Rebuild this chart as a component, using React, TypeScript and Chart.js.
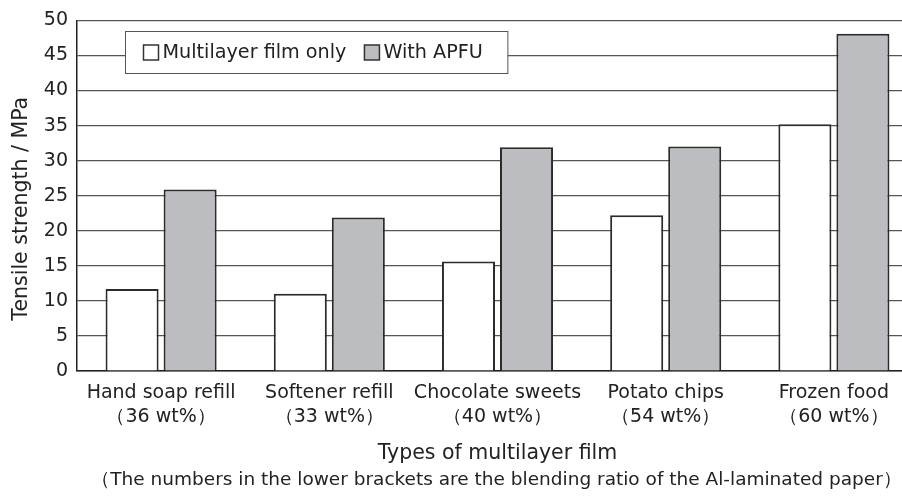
import React, { useEffect, useRef } from "react";
import { Chart, registerables } from "chart.js";

Chart.register(...registerables);

// ---- data ----
const categories = ["Hand soap refill", "Softener refill", "Chocolate sweets", "Potato chips", "Frozen food"];
const ratios = ["（36 wt%）", "（33 wt%）", "（40 wt%）", "（54 wt%）", "（60 wt%）"];
const seriesNames = ["Multilayer film only", "With APFU"];
const multilayerOnly = [11.7, 11.0, 15.6, 22.2, 35.2];
const withAPFU = [25.9, 21.9, 31.9, 32.0, 48.1];
const yMin = 0;
const yMax = 50;
const yStep = 5;
const yTitle = "Tensile strength / MPa";
const xTitle = "Types of multilayer film";
const xNote = "（The numbers in the lower brackets are the blending ratio of the Al-laminated paper）";

const FONT = '"DejaVu Sans", sans-serif';
const TEXT = "#222";

const legendBox = {
  id: "legendBox",
  afterDraw(chart: any) {
    const { ctx, chartArea } = chart;
    ctx.save();
    ctx.font = `19.2px ${FONT}`;
    const pad = 18, padR = 25, sq = 15, gapText = 4, gapItem = 18, h = 42;
    const items = chart.data.datasets.map((ds: any) => ({
      label: ds.label,
      fill: ds.backgroundColor,
      stroke: ds.borderColor,
    }));
    let w = pad + padR;
    items.forEach((it: any, i: number) => {
      w += sq + gapText + ctx.measureText(it.label).width + (i < items.length - 1 ? gapItem : 0);
    });
    const x0 = Math.round(chartArea.left + 48) + 0.5;
    const y0 = Math.round(chartArea.top + 11) + 0.5;
    ctx.fillStyle = "#fff";
    ctx.fillRect(x0, y0, w, h);
    ctx.strokeStyle = "#555";
    ctx.lineWidth = 1;
    ctx.strokeRect(x0, y0, w, h);
    let x = x0 + pad;
    const cy = y0 + h / 2;
    items.forEach((it: any) => {
      ctx.fillStyle = it.fill;
      ctx.fillRect(x, cy - sq / 2, sq, sq);
      ctx.lineWidth = 1.5;
      ctx.strokeStyle = "#333";
      ctx.strokeRect(x, cy - sq / 2, sq, sq);
      x += sq + gapText;
      ctx.fillStyle = TEXT;
      ctx.textBaseline = "middle";
      ctx.textAlign = "left";
      ctx.fillText(it.label, x, cy + 1);
      x += ctx.measureText(it.label).width + gapItem;
    });
    ctx.restore();
  },
};

const noteText = {
  id: "noteText",
  afterDraw(chart: any) {
    const { ctx, chartArea } = chart;
    ctx.save();
    ctx.font = `18.5px ${FONT}`;
    ctx.fillStyle = TEXT;
    ctx.textAlign = "center";
    ctx.textBaseline = "middle";
    ctx.fillText(xNote, (chartArea.left + chartArea.right) / 2 - 1, chart.height - 17);
    ctx.restore();
  },
};

export default function App() {
  const ref = useRef<HTMLCanvasElement | null>(null);

  useEffect(() => {
    if (!ref.current) return;
    const chart = new Chart(ref.current, {
      type: "bar",
      data: {
        labels: categories.map((c, i) => [c, ratios[i]]),
        datasets: [
          {
            label: seriesNames[0],
            data: multilayerOnly,
            backgroundColor: "#ffffff",
            borderColor: "#2b2b2b",
            borderWidth: 2,
          },
          {
            label: seriesNames[1],
            data: withAPFU,
            backgroundColor: "#bcbdc0",
            borderColor: "#2b2b2b",
            borderWidth: 2,
          },
        ],
      },
      options: {
        responsive: false,
        animation: false,
        devicePixelRatio: 1,
        layout: { padding: { left: 0, right: 2, top: 19, bottom: 0 } },
        datasets: { bar: { categoryPercentage: 0.69, barPercentage: 0.914 } },
        plugins: {
          legend: { display: false },
          tooltip: { enabled: false },
        },
        scales: {
          x: {
            type: "category",
            offset: true,
            grid: { display: false, drawTicks: false },
            border: { display: true, color: "#222", width: 1.5 },
            ticks: {
              color: TEXT,
              font: { family: FONT, size: 19, lineHeight: 1.25 },
              padding: 10,
              autoSkip: false,
              maxRotation: 0,
              minRotation: 0,
            },
            title: {
              display: true,
              text: xTitle,
              color: TEXT,
              font: { family: FONT, size: 20.5, lineHeight: 1.2 },
              padding: { top: 0, bottom: 31.5 },
            },
            afterFit: (s: any) => {
              s.height = 126;
            },
          },
          y: {
            min: yMin,
            max: yMax,
            grid: { color: "#555", lineWidth: 1.2, drawTicks: false },
            border: { display: true, color: "#222", width: 1.5 },
            ticks: {
              stepSize: yStep,
              color: TEXT,
              font: { family: FONT, size: 19 },
              padding: 9,
            },
            title: {
              display: true,
              text: yTitle + "\u00a0".repeat(4),
              color: TEXT,
              font: { family: FONT, size: 20.5, lineHeight: 1.2 },
              padding: { top: 9, bottom: 0 },
            },
            afterFit: (s: any) => {
              s.width = 77;
            },
          },
        },
      },
      plugins: [legendBox, noteText],
    });
    return () => chart.destroy();
  }, []);

  return (
    <div
      style={{
        position: "fixed",
        left: 0,
        top: 0,
        width: 902,
        height: 497,
        overflow: "hidden",
        background: "#fff",
      }}
    >
      <canvas ref={ref} width={920} height={497} style={{ width: 920, height: 497, display: "block" }} />
    </div>
  );
}
